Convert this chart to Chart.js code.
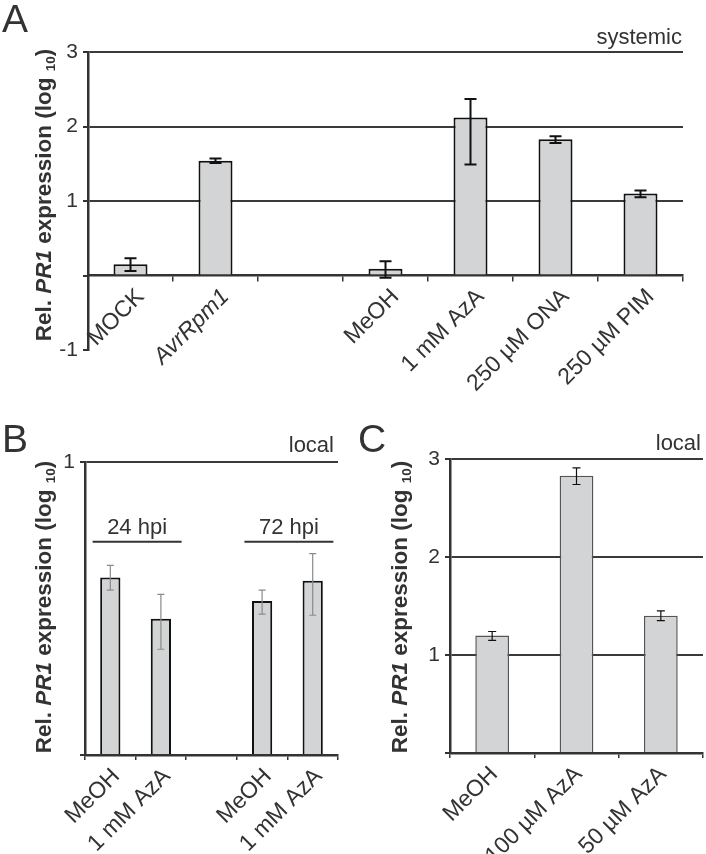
<!DOCTYPE html>
<html><head><meta charset="utf-8">
<script src="https://cdn.jsdelivr.net/npm/chart.js@4"></script>
<style>
body{margin:0;width:706px;height:854px;position:relative;background:#fff;font-family:"Liberation Sans",Arial,sans-serif;color:#333;overflow:hidden}
canvas{position:absolute}
.t{position:absolute;white-space:nowrap}
.ytitle{position:absolute;width:360px;height:24px;line-height:24px;text-align:center;font-weight:bold;font-size:22.5px;transform:rotate(-90deg);white-space:nowrap;color:#333}
.ytitle sub{font-size:60%;vertical-align:-0.3em;line-height:0}
</style></head><body>
<canvas id="cA" width="706" height="420" style="left:0;top:0"></canvas>
<canvas id="cB" width="350" height="434" style="left:0;top:420px"></canvas>
<canvas id="cC" width="353" height="434" style="left:353px;top:420px"></canvas>

<div class="t" style="left:2px;top:-1px;font-size:39px;line-height:39px">A</div>
<div class="t" style="left:2px;top:419px;font-size:39px;line-height:39px">B</div>
<div class="t" style="left:358px;top:419px;font-size:39px;line-height:39px">C</div>
<div class="t" style="right:24px;top:26px;font-size:22px;line-height:22px">systemic</div>
<div class="t" style="right:372px;top:434px;font-size:22px;line-height:22px">local</div>
<div class="t" style="right:5px;top:432px;font-size:22px;line-height:22px">local</div>
<div class="ytitle" style="left:-136px;top:183px">Rel. <i>PR1</i> expression (log <sub>10</sub>)</div>
<div class="ytitle" style="left:-136px;top:595px">Rel. <i>PR1</i> expression (log <sub>10</sub>)</div>
<div class="ytitle" style="left:220px;top:595px">Rel. <i>PR1</i> expression (log <sub>10</sub>)</div>

<script>
// ---------- data ----------
const catsA = ['MOCK', 'AvrRpm1', '', 'MeOH', '1 mM AzA', '250 µM ONA', '250 µM PIM'];
const valsA = [0.15, 1.54, null, 0.09, 2.12, 1.83, 1.10];
const hiA   = [0.23, 1.57, null, 0.19, 2.37, 1.87, 1.14];
const loA   = [0.06, 1.51, null, -0.03, 1.49, 1.78, 1.05];
const tickLabelsA = [-1, 1, 2, 3];

const catsB = ['MeOH', '1 mM AzA', '', 'MeOH', '1 mM AzA'];
const valsB = [0.606, 0.465, null, 0.526, 0.595];
const hiB   = [0.647, 0.548, null, 0.563, 0.687];
const loB   = [0.563, 0.361, null, 0.481, 0.477];
const tickLabelsB = [1];
const groupLabelsB = ['24 hpi', '72 hpi'];
const groupFromB = [0, 3];
const groupToB = [1, 4];

const catsC = ['MeOH', '100 µM AzA', '50 µM AzA'];
const valsC = [1.20, 2.83, 1.40];
const hiC   = [1.24, 2.91, 1.45];
const loC   = [1.15, 2.74, 1.35];
const tickLabelsC = [1, 2, 3];

// ---------- helpers ----------
Chart.defaults.font.family = '"Liberation Sans", Arial, sans-serif';
Chart.defaults.color = '#333';
const FILL = '#d3d4d6';

function errorBars(hi, lo, color, width, cap) {
  return {
    id: 'errorBars',
    afterDatasetsDraw(chart) {
      const ctx = chart.ctx, y = chart.scales.y;
      const meta = chart.getDatasetMeta(0);
      ctx.save();
      ctx.strokeStyle = color; ctx.lineWidth = width;
      meta.data.forEach((bar, i) => {
        if (hi[i] == null) return;
        const x = bar.x, y1 = y.getPixelForValue(hi[i]), y2 = y.getPixelForValue(lo[i]);
        ctx.beginPath();
        ctx.moveTo(x, y1); ctx.lineTo(x, y2);
        ctx.moveTo(x - cap, y1); ctx.lineTo(x + cap, y1);
        ctx.moveTo(x - cap, y2); ctx.lineTo(x + cap, y2);
        ctx.stroke();
      });
      ctx.restore();
    }
  };
}

function groupLabels(labels, from, to) {
  return {
    id: 'groupLabels',
    afterDraw(chart) {
      const ctx = chart.ctx, x = chart.scales.x;
      ctx.save();
      ctx.fillStyle = '#333'; ctx.strokeStyle = '#333'; ctx.lineWidth = 2;
      ctx.font = '22px "Liberation Sans", Arial, sans-serif';
      ctx.textAlign = 'center'; ctx.textBaseline = 'alphabetic';
      labels.forEach((lab, i) => {
        const c = (x.getPixelForValue(from[i]) + x.getPixelForValue(to[i])) / 2 + 1.5;
        ctx.fillText(lab, c, 114);
        ctx.beginPath(); ctx.moveTo(c - 44.5, 121.7); ctx.lineTo(c + 44.5, 121.7); ctx.stroke();
      });
      ctx.restore();
    }
  };
}

function yTicks(labels, min, max, size) {
  return {
    min: min, max: max,
    ticks: {
      stepSize: 1, padding: 5, font: {size: size}, color: '#333',
      callback: v => labels.includes(v) ? String(v) : ''
    },
    grid: {
      color: c => (c.tick && c.tick.value > 0) ? '#3a3a3a' : 'rgba(0,0,0,0)',
      tickColor: '#333', lineWidth: 2, tickLength: 5, drawTicks: true
    },
    border: {display: true, color: '#333', width: 2.5}
  };
}

function xScale(extra, italicIdx, labelOffset) {
  return Object.assign({
    offset: true,
    ticks: {
      autoSkip: false, minRotation: 45, maxRotation: 45, padding: 3, color: '#333', labelOffset: labelOffset,
      font: c => ({size: 23, style: (italicIdx != null && c.index === italicIdx) ? 'italic' : 'normal'})
    },
    grid: {display: true, offset: true, drawOnChartArea: false, drawTicks: true, tickLength: 5, tickColor: '#333', lineWidth: 1.5},
    border: {display: true, color: '#333', width: 2.5}
  }, extra);
}

// ---------- Chart A ----------
new Chart(document.getElementById('cA'), {
  type: 'bar',
  data: {labels: catsA, datasets: [{data: valsA, backgroundColor: FILL, borderColor: '#111', borderWidth: 2,
    barPercentage: 0.4, categoryPercentage: 1}]},
  options: {
    responsive: false, animation: false, events: [],
    layout: {padding: {left: 0, top: 52, right: 23, bottom: 70}},
    plugins: {legend: {display: false}, tooltip: {enabled: false}},
    scales: {
      x: xScale({position: {y: 0}}, 1, 10),
      y: Object.assign(yTicks(tickLabelsA, -1, 3, 21), {afterFit: s => { s.width = 88; }})
    }
  },
  plugins: [errorBars(hiA, loA, '#111', 2, 6)]
});

// ---------- Chart B ----------
new Chart(document.getElementById('cB'), {
  type: 'bar',
  data: {labels: catsB, datasets: [{data: valsB, backgroundColor: FILL, borderColor: '#111', borderWidth: 2,
    barPercentage: 0.4, categoryPercentage: 1}]},
  options: {
    responsive: false, animation: false, events: [],
    layout: {padding: {left: 0, top: 42, right: 12, bottom: 0}},
    plugins: {legend: {display: false}, tooltip: {enabled: false}},
    scales: {
      x: xScale({position: 'bottom', afterFit: s => { s.height = 99; }}, null, 6),
      y: Object.assign(yTicks(tickLabelsB, 0, 1, 21), {afterFit: s => { s.width = 85; }})
    }
  },
  plugins: [errorBars(hiB, loB, '#8a8a8a', 1.2, 3.5), groupLabels(groupLabelsB, groupFromB, groupToB)]
});

// ---------- Chart C ----------
new Chart(document.getElementById('cC'), {
  type: 'bar',
  data: {labels: catsC, datasets: [{data: valsC, backgroundColor: FILL, borderColor: '#555', borderWidth: 1.5,
    barPercentage: 0.4, categoryPercentage: 1}]},
  options: {
    responsive: false, animation: false, events: [],
    layout: {padding: {left: 0, top: 39, right: 3, bottom: 0}},
    plugins: {legend: {display: false}, tooltip: {enabled: false}},
    scales: {
      x: xScale({position: 'bottom', afterFit: s => { s.height = 101; }}, null, 2),
      y: Object.assign(yTicks(tickLabelsC, 0, 3, 21), {afterFit: s => { s.width = 97; }})
    }
  },
  plugins: [errorBars(hiC, loC, '#111', 1.2, 4)]
});
</script>
</body></html>
